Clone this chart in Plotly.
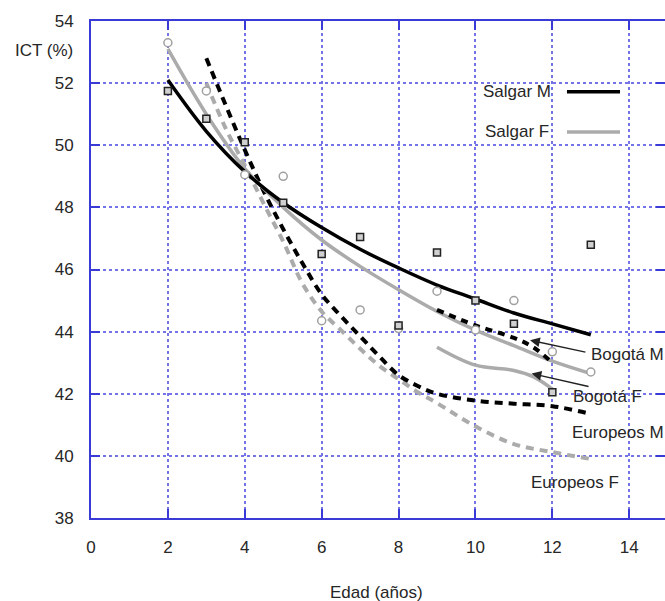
import plotly.graph_objects as go

# ---- data ----
ages = [2, 3, 4, 5, 6, 7, 8, 9, 10, 11, 12, 13]
salgar_m_points = [51.75, 50.85, 50.1, 48.15, 46.5, 47.05, 44.2, 46.55, 45.0, 44.25, 42.05, 46.8]
salgar_f_points = [53.3, 51.75, 49.05, 49.0, 44.35, 44.7, 44.1, 45.3, 44.05, 45.0, 43.35, 42.7]

salgar_m_curve = [52.1, 50.45, 49.15, 48.15, 47.35, 46.65, 46.05, 45.5, 45.05, 44.6, 44.25, 43.9]
salgar_f_curve = [53.1, 51.0, 49.25, 48.0, 46.95, 46.1, 45.35, 44.65, 44.05, 43.55, 43.05, 42.65]

bogota_x = [9, 10, 11, 11.5, 12]
bogota_m = [44.7, 44.2, 43.8, 43.5, 43.0]
bogota_f = [43.5, 42.92, 42.75, 42.55, 42.15]

euro_x = [3, 3.5, 4, 4.5, 5, 5.5, 6, 6.5, 7, 7.5, 8, 8.5, 9, 10, 11, 12, 13]
euro_m = [52.8, 51.3, 49.85, 48.5, 47.3, 46.2, 45.2, 44.5, 43.85, 43.2, 42.6, 42.25, 42.0, 41.78, 41.68, 41.6, 41.35]
euro_f = [52.0, 50.55, 49.35, 48.1, 46.9, 45.55, 44.65, 44.05, 43.45, 42.9, 42.47, 42.05, 41.7, 40.95, 40.38, 40.12, 39.9]

x_ticks = [0, 2, 4, 6, 8, 10, 12, 14]
y_ticks = [38, 40, 42, 44, 46, 48, 50, 52, 54]

FONT = "Liberation Sans, Arial, sans-serif"
TXT = "#262626"
BLUE = "#3a3ad6"
GRID = "#7474e6"
GRAY = "#ababab"
FS = 17

fig = go.Figure()

def curve(x, y, color, dash=None, width=3.5):
    fig.add_trace(go.Scatter(x=x, y=y, mode="lines",
                             line=dict(color=color, width=width, dash=dash, shape="spline", smoothing=1.0),
                             showlegend=False, hoverinfo="skip"))

curve(euro_x, euro_f, GRAY, dash="8px,6px", width=4)
curve(euro_x, euro_m, "#000000", dash="8px,6px", width=4)
curve(ages, salgar_f_curve, GRAY, width=3.5)
curve(ages, salgar_m_curve, "#000000", width=3.5)
curve(bogota_x, bogota_f, GRAY, width=3.5)
curve(bogota_x, bogota_m, "#000000", dash="7px,6px", width=4)

fig.add_trace(go.Scatter(x=ages, y=salgar_f_points, mode="markers",
                         marker=dict(symbol="circle", size=8, color="white",
                                     line=dict(color="#a0a0a0", width=1.5)),
                         showlegend=False))
fig.add_trace(go.Scatter(x=ages, y=salgar_m_points, mode="markers",
                         marker=dict(symbol="square", size=7, color="#d0d0d0",
                                     line=dict(color="#222222", width=1.5)),
                         showlegend=False))

# legend samples
fig.add_shape(type="line", x0=12.38, x1=13.76, y0=51.72, y1=51.72, xref="x", yref="y",
              line=dict(color="#000000", width=3.5))
fig.add_shape(type="line", x0=12.38, x1=13.76, y0=50.43, y1=50.43, xref="x", yref="y",
              line=dict(color=GRAY, width=3.5))

def label(text, x, y, anchor="left"):
    fig.add_annotation(text=text, x=x, y=y, xref="x", yref="y", showarrow=False,
                       xanchor=anchor, yanchor="middle",
                       font=dict(family=FONT, size=FS, color=TXT))

label("Salgar M", 12.02, 51.72, "right")
label("Salgar F", 11.97, 50.43, "right")
label("Bogotá M", 12.96, 43.25)
label("Bogotá F", 12.48, 41.92)
label("Europeos M", 12.47, 40.76)
label("Europeos F", 11.4, 39.14)

# arrows
for hx, hy, tx, ty in [(11.42, 43.72, 12.9, 43.33), (11.46, 42.65, 12.98, 42.22)]:
    fig.add_annotation(x=hx, y=hy, ax=tx, ay=ty, xref="x", yref="y", axref="x", ayref="y",
                       text="", showarrow=True, arrowhead=2, arrowsize=1.3, arrowwidth=1.5,
                       arrowcolor="#222222")

W, H = 665, 601
ML, MT = 91, 21
MB = H - 518
pw, ph = W - ML, H - MT - MB

def px_title(text, px, py):
    fig.add_annotation(text=text, x=(px - ML) / pw, y=1 - (py - MT) / ph,
                       xref="paper", yref="paper", showarrow=False,
                       xanchor="center", yanchor="middle",
                       font=dict(family=FONT, size=FS, color=TXT))

px_title("ICT (%)", 44, 50)
px_title("Edad (años)", 376, 592)

fig.update_layout(
    width=W, height=H,
    margin=dict(l=ML, r=0, t=MT, b=MB, pad=0),
    plot_bgcolor="white", paper_bgcolor="white",
    font=dict(family=FONT, size=FS, color=TXT),
    xaxis=dict(range=[0, 14.93], tickvals=x_ticks, ticks="inside", ticklen=9, tickwidth=2,
               tickcolor=BLUE, showline=True, linecolor=BLUE, linewidth=2, mirror="ticks",
               showgrid=True, gridcolor=GRID, griddash="dot", gridwidth=1.5,
               zeroline=False, ticklabelstandoff=13, tickfont=dict(size=FS, color=TXT)),
    yaxis=dict(range=[38, 54], tickvals=y_ticks, ticks="inside", ticklen=9, tickwidth=2,
               tickcolor=BLUE, showline=True, linecolor=BLUE, linewidth=2, mirror=False,
               showgrid=True, gridcolor=GRID, griddash="dot", gridwidth=1.5,
               zeroline=False, ticklabelstandoff=12, tickfont=dict(size=FS, color=TXT)),
    yaxis2=dict(range=[38, 54], tickvals=y_ticks, overlaying="y", side="right",
                ticks="inside", ticklen=9, tickwidth=2, tickcolor=BLUE, showline=False,
                showticklabels=False, showgrid=False, zeroline=False),
)
fig.add_trace(go.Scatter(x=[None], y=[None], yaxis="y2", showlegend=False, hoverinfo="skip"))

fig.write_html("out.html", config={"displayModeBar": False},
               post_script="document.body.style.margin='0';document.body.style.overflow='hidden';")
